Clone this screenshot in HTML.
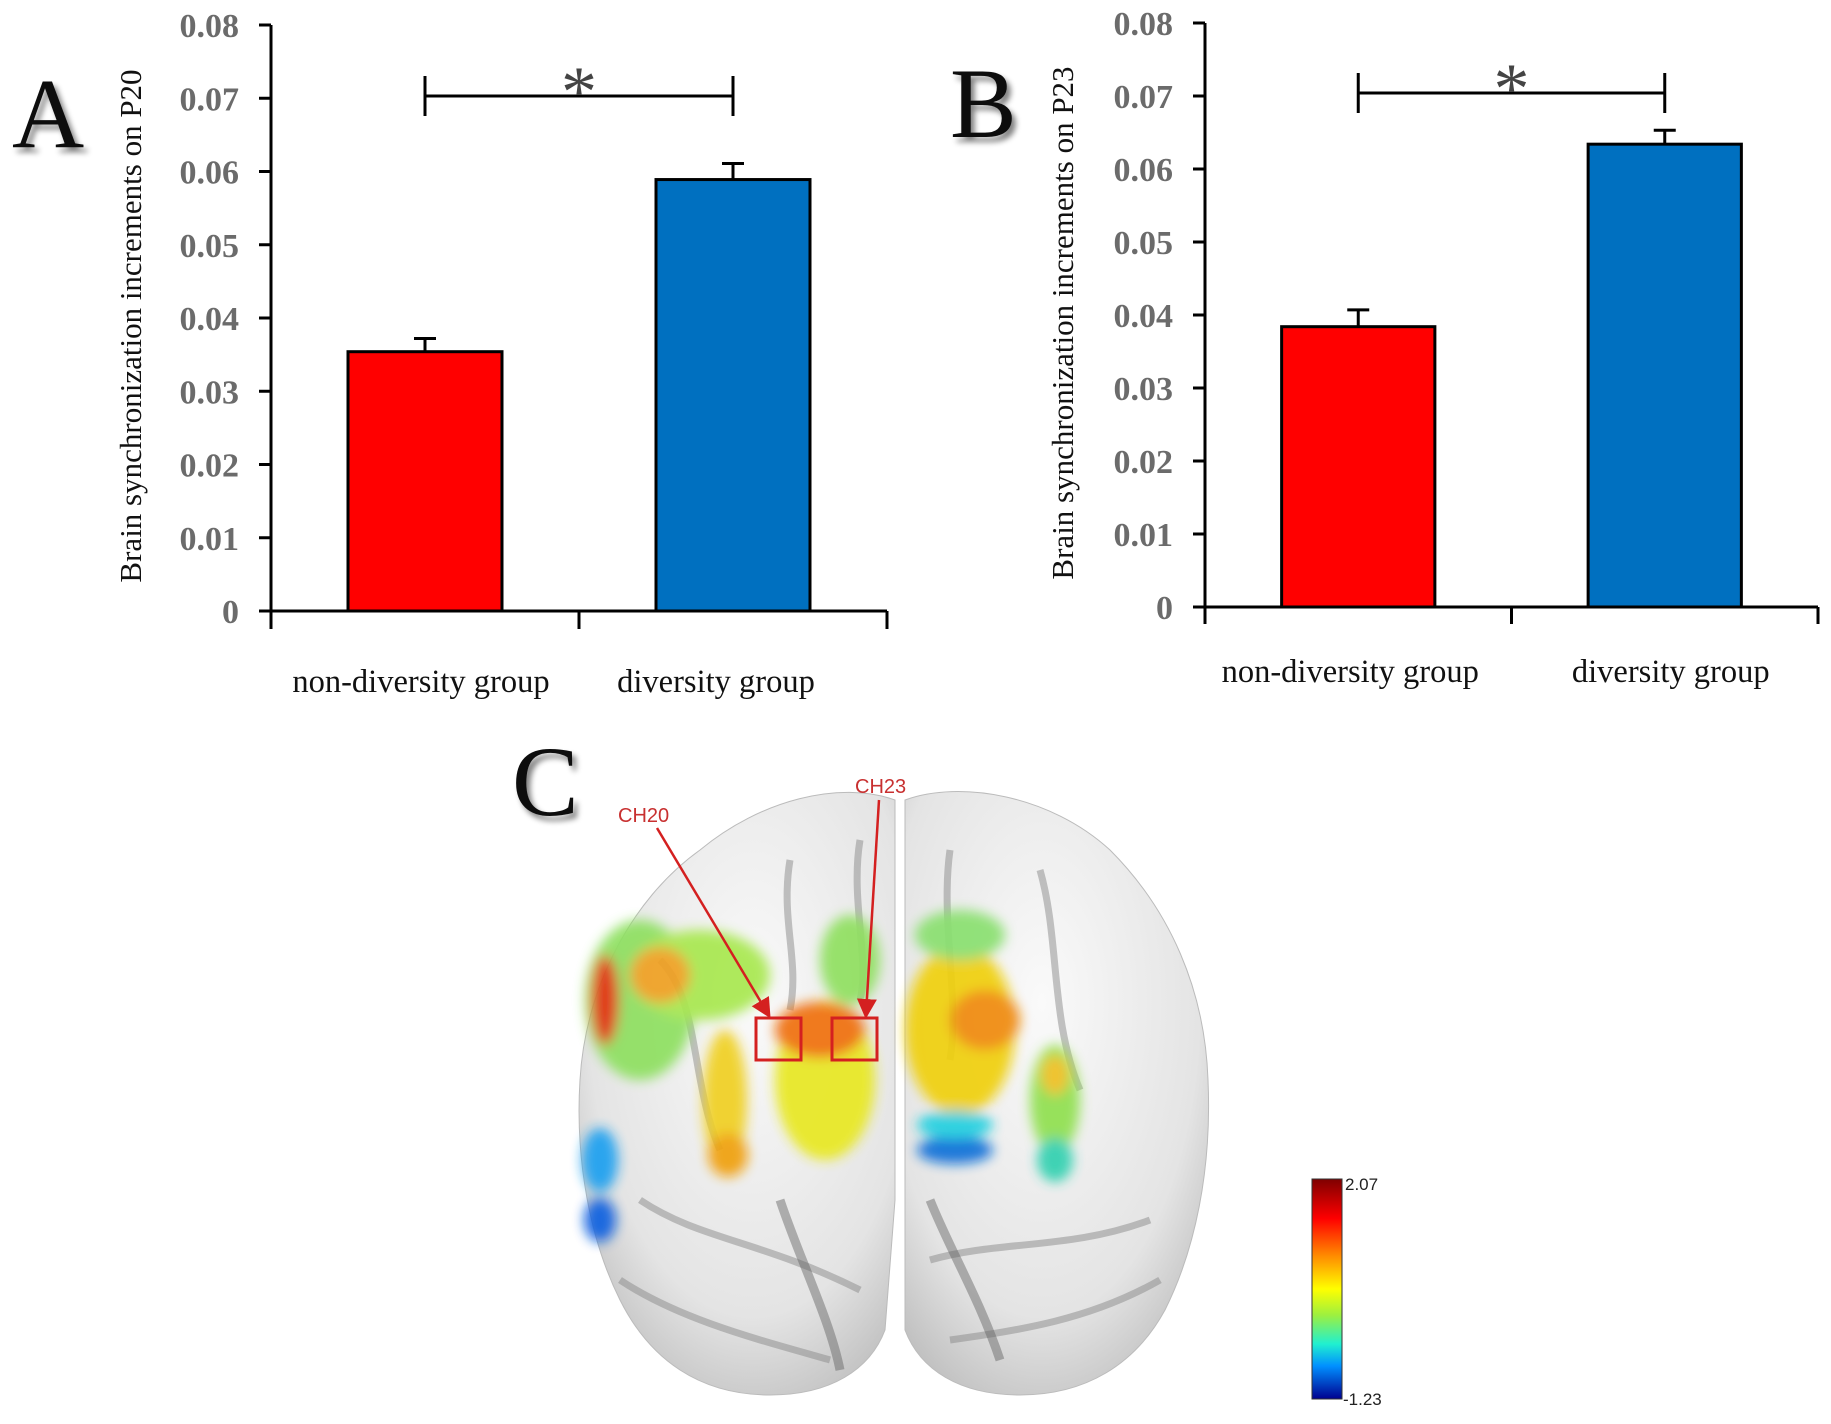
<!DOCTYPE html>
<html><head><meta charset="utf-8"><style>
html,body{margin:0;padding:0;background:#fff;}
svg{display:block;}
.tick{font-family:"Liberation Serif",serif;font-weight:bold;font-size:34px;fill:#6b6b6b;}
.cat{font-family:"Liberation Serif",serif;font-size:32.5px;fill:#111;}
.ttl{font-family:"Liberation Serif",serif;font-size:31px;fill:#111;}
.big{font-family:"Liberation Serif",serif;font-size:100px;fill:#111;}
</style></head><body>
<svg id="fig" width="1831" height="1424" viewBox="0 0 1831 1424" xmlns="http://www.w3.org/2000/svg">
<defs>
<filter id="sh" x="-20%" y="-20%" width="140%" height="140%"><feGaussianBlur in="SourceAlpha" stdDeviation="3"/><feOffset dx="4" dy="5"/><feComponentTransfer><feFuncA type="linear" slope="0.5"/></feComponentTransfer><feMerge><feMergeNode/><feMergeNode in="SourceGraphic"/></feMerge></filter>
<filter id="blur" x="-30%" y="-30%" width="160%" height="160%"><feGaussianBlur stdDeviation="6"/></filter>
<radialGradient id="brainL" cx="0.55" cy="0.35" r="0.8"><stop offset="0" stop-color="#fafafa"/><stop offset="0.65" stop-color="#e4e4e4"/><stop offset="1" stop-color="#b0b0b0"/></radialGradient>
<radialGradient id="brainR" cx="0.45" cy="0.35" r="0.8"><stop offset="0" stop-color="#fafafa"/><stop offset="0.65" stop-color="#e4e4e4"/><stop offset="1" stop-color="#b0b0b0"/></radialGradient>
<linearGradient id="cbar" x1="0" y1="0" x2="0" y2="1">
<stop offset="0" stop-color="#7f0000"/><stop offset="0.18" stop-color="#ff0000"/><stop offset="0.35" stop-color="#ff8c00"/><stop offset="0.5" stop-color="#ffff00"/><stop offset="0.62" stop-color="#9cf040"/><stop offset="0.75" stop-color="#20f0d0"/><stop offset="0.85" stop-color="#0090ff"/><stop offset="1" stop-color="#00008f"/></linearGradient>
<marker id="arr" markerWidth="8" markerHeight="8" refX="6" refY="4" orient="auto"><path d="M0,0 L8,4 L0,8 z" fill="#d42020"/></marker>
</defs>
<g id="chartA"></g>
<g id="chartB"></g>
<text class="big" x="12" y="147" filter="url(#sh)">A</text>
<text class="big" x="950" y="137" filter="url(#sh)">B</text>
<text class="big" x="512" y="815" filter="url(#sh)">C</text>

<g>
 <path d="M895,800 C840,780 760,800 700,850 C630,900 585,990 580,1080 C575,1160 590,1240 620,1300 C650,1360 700,1395 770,1395 C830,1395 870,1370 885,1330 L895,1200 Z" fill="url(#brainL)" stroke="#bbb"/>
 <path d="M905,800 C960,780 1050,795 1110,850 C1170,910 1205,990 1208,1080 C1212,1170 1195,1250 1165,1310 C1135,1365 1085,1395 1020,1395 C960,1395 920,1370 905,1330 Z" fill="url(#brainR)" stroke="#bbb"/>
 <path d="M790,860 C780,920 800,960 790,1010 M860,840 C850,900 870,960 860,1000 M660,960 C700,1000 690,1080 720,1150 M950,850 C940,920 960,1000 950,1060 M1040,870 C1060,940 1050,1020 1080,1090 M640,1200 C700,1240 760,1240 860,1290 M930,1260 C1000,1240 1070,1250 1150,1220 M620,1280 C680,1320 760,1340 830,1360 M950,1340 C1020,1330 1090,1320 1160,1280" stroke="#8a8a8a" stroke-width="7" fill="none" opacity="0.5"/>
 <path d="M780,1200 C800,1260 830,1320 840,1370 M930,1200 C950,1250 980,1300 1000,1360" stroke="#606060" stroke-width="9" fill="none" opacity="0.45"/>
 <g filter="url(#blur)" opacity="0.92">
  <ellipse cx="640" cy="1000" rx="55" ry="80" fill="#8ee060"/>
  <ellipse cx="700" cy="975" rx="70" ry="45" fill="#a8e850"/>
  <ellipse cx="660" cy="975" rx="30" ry="28" fill="#f0a020"/>
  <ellipse cx="605" cy="1000" rx="14" ry="45" fill="#e03010"/>
  <ellipse cx="600" cy="1160" rx="18" ry="32" fill="#1aa0f0"/>
  <ellipse cx="600" cy="1220" rx="16" ry="22" fill="#1060e0"/>
  <ellipse cx="725" cy="1100" rx="22" ry="70" fill="#f0d020"/>
  <ellipse cx="728" cy="1155" rx="20" ry="22" fill="#f0a010"/>
  <ellipse cx="825" cy="1080" rx="50" ry="80" fill="#e8e820"/>
  <ellipse cx="820" cy="1030" rx="45" ry="28" fill="#f07010"/>
  <ellipse cx="850" cy="960" rx="30" ry="45" fill="#90e060"/>
  <ellipse cx="960" cy="1030" rx="55" ry="85" fill="#f0d010"/>
  <ellipse cx="985" cy="1020" rx="35" ry="30" fill="#f08a10"/>
  <ellipse cx="960" cy="935" rx="45" ry="25" fill="#8ae070"/>
  <ellipse cx="955" cy="1150" rx="38" ry="14" fill="#1070d8"/>
  <ellipse cx="955" cy="1125" rx="38" ry="14" fill="#20d0e0"/>
  <ellipse cx="1055" cy="1100" rx="25" ry="55" fill="#90e050"/>
  <ellipse cx="1055" cy="1075" rx="14" ry="20" fill="#f0c020"/>
  <ellipse cx="1055" cy="1160" rx="18" ry="22" fill="#30d0b0"/>
 </g>
 <rect x="756" y="1018" width="45" height="42" fill="none" stroke="#d42020" stroke-width="3"/>
 <rect x="832" y="1018" width="45" height="42" fill="none" stroke="#d42020" stroke-width="3"/>
 <line x1="657" y1="828" x2="768" y2="1014" stroke="#d42020" stroke-width="2.5" marker-end="url(#arr)"/>
 <line x1="879" y1="800" x2="866" y2="1014" stroke="#d42020" stroke-width="2.5" marker-end="url(#arr)"/>
 <text x="618" y="822" font-family="Liberation Sans, sans-serif" font-size="20" fill="#c83030">CH20</text>
 <text x="855" y="793" font-family="Liberation Sans, sans-serif" font-size="20" fill="#c83030">CH23</text>
</g>
<g>
 <rect x="1312" y="1179" width="30" height="220" fill="url(#cbar)" stroke="#333" stroke-width="1"/>
 <text x="1345" y="1190" font-family="Liberation Sans, sans-serif" font-size="17" fill="#222">2.07</text>
 <text x="1343" y="1405" font-family="Liberation Sans, sans-serif" font-size="17" fill="#222">-1.23</text>
</g>
</svg>
<script>
const categories = ["non-diversity group", "diversity group"];
const valuesA = [0.0354, 0.0589];
const errorsA = [0.0018, 0.0022];
const valuesB = [0.0384, 0.0634];
const errorsB = [0.0023, 0.0019];
const tickLabels = ["0", "0.01", "0.02", "0.03", "0.04", "0.05", "0.06", "0.07", "0.08"];
const tickValues = [0, 0.01, 0.02, 0.03, 0.04, 0.05, 0.06, 0.07, 0.08];
const colors = ["#ff0000", "#0070c0"];
const NS = "http://www.w3.org/2000/svg";
function mk(parent, tag, attrs) {
  const e = document.createElementNS(NS, tag);
  for (const k in attrs) e.setAttribute(k, attrs[k]);
  parent.appendChild(e);
  return e;
}
function drawChart(g, cfg, values, errors, title, suffix) {
  const y = v => cfg.y0 - (v / 0.08) * (cfg.y0 - cfg.yTop);
  const bandW = (cfg.x1 - cfg.x0) / categories.length;
  const xc = i => cfg.x0 + bandW * (i + 0.5);
  const bw = bandW * 0.5;
  const ax = mk(g, "line", {x1: cfg.x0, y1: cfg.yTop, x2: cfg.x0, y2: cfg.tickBot, stroke: "#000", "stroke-width": 3});
  
  
  const xa = mk(g, "line", {x1: cfg.x0 - 12, y1: cfg.y0, x2: cfg.x1, y2: cfg.y0, stroke: "#000", "stroke-width": 3});
  
  
  for (let i = 1; i <= categories.length; i++) {
    const xt = cfg.x0 + bandW * i;
    const t = mk(g, "line", {x1: xt, y1: cfg.y0, x2: xt, y2: cfg.tickBot, stroke: "#000", "stroke-width": 3});
    
    
  }
  tickValues.forEach((v, i) => {
    const t = mk(g, "line", {x1: cfg.x0 - 12, y1: y(v), x2: cfg.x0, y2: y(v), stroke: "#000", "stroke-width": 3});
    
    
    const l = mk(g, "text", {x: cfg.x0 - 32, y: y(v) + 12, "text-anchor": "end", class: "tick"});
    l.textContent = tickLabels[i];
    
    
  });
  values.forEach((v, i) => {
    const r = mk(g, "rect", {x: xc(i) - bw / 2, y: y(v), width: bw, height: cfg.y0 - y(v), fill: colors[i], stroke: "#000", "stroke-width": 3});
    
    
    const e = mk(g, "path", {d: `M${xc(i)},${y(v)} V${y(v + errors[i])} M${xc(i) - 11},${y(v + errors[i])} H${xc(i) + 11}`, stroke: "#000", "stroke-width": 3, fill: "none"});
    
    
    const c = mk(g, "text", {x: xc(i) + cfg.labOff[i], y: cfg.labY, "text-anchor": "middle", class: "cat"});
    c.textContent = categories[i];
    
    
  });
  const bx0 = xc(0), bx1 = xc(1);
  const br = mk(g, "path", {d: `M${bx0},${cfg.brY - 20} V${cfg.brY + 20} M${bx0},${cfg.brY} H${bx1} M${bx1},${cfg.brY - 20} V${cfg.brY + 20}`, stroke: "#000", "stroke-width": 3, fill: "none"});
  
  
  const st = mk(g, "text", {x: (bx0 + bx1) / 2, y: cfg.brY + 20, "text-anchor": "middle", style: "font-family:'Liberation Serif',serif;font-size:72px;fill:#444"});
  st.textContent = "*";
  
  
  const tt = mk(g, "text", {x: 0, y: 0, "text-anchor": "middle", class: "ttl", transform: `translate(${cfg.titleX},${(cfg.yTop + cfg.y0) / 2 + 8}) rotate(-90)`});
  tt.textContent = title;
  
  
}
drawChart(document.getElementById("chartA"), {x0: 271, x1: 887, y0: 611, yTop: 25, tickBot: 629, labY: 692, labOff: [-4, -17], brY: 96, titleX: 141}, valuesA, errorsA, "Brain synchronization increments on P20", "a");
drawChart(document.getElementById("chartB"), {x0: 1205, x1: 1818, y0: 607, yTop: 23, tickBot: 624, labY: 682, labOff: [-8, 6], brY: 93, titleX: 1073}, valuesB, errorsB, "Brain synchronization increments on P23", "b");
</script>
</body></html>
